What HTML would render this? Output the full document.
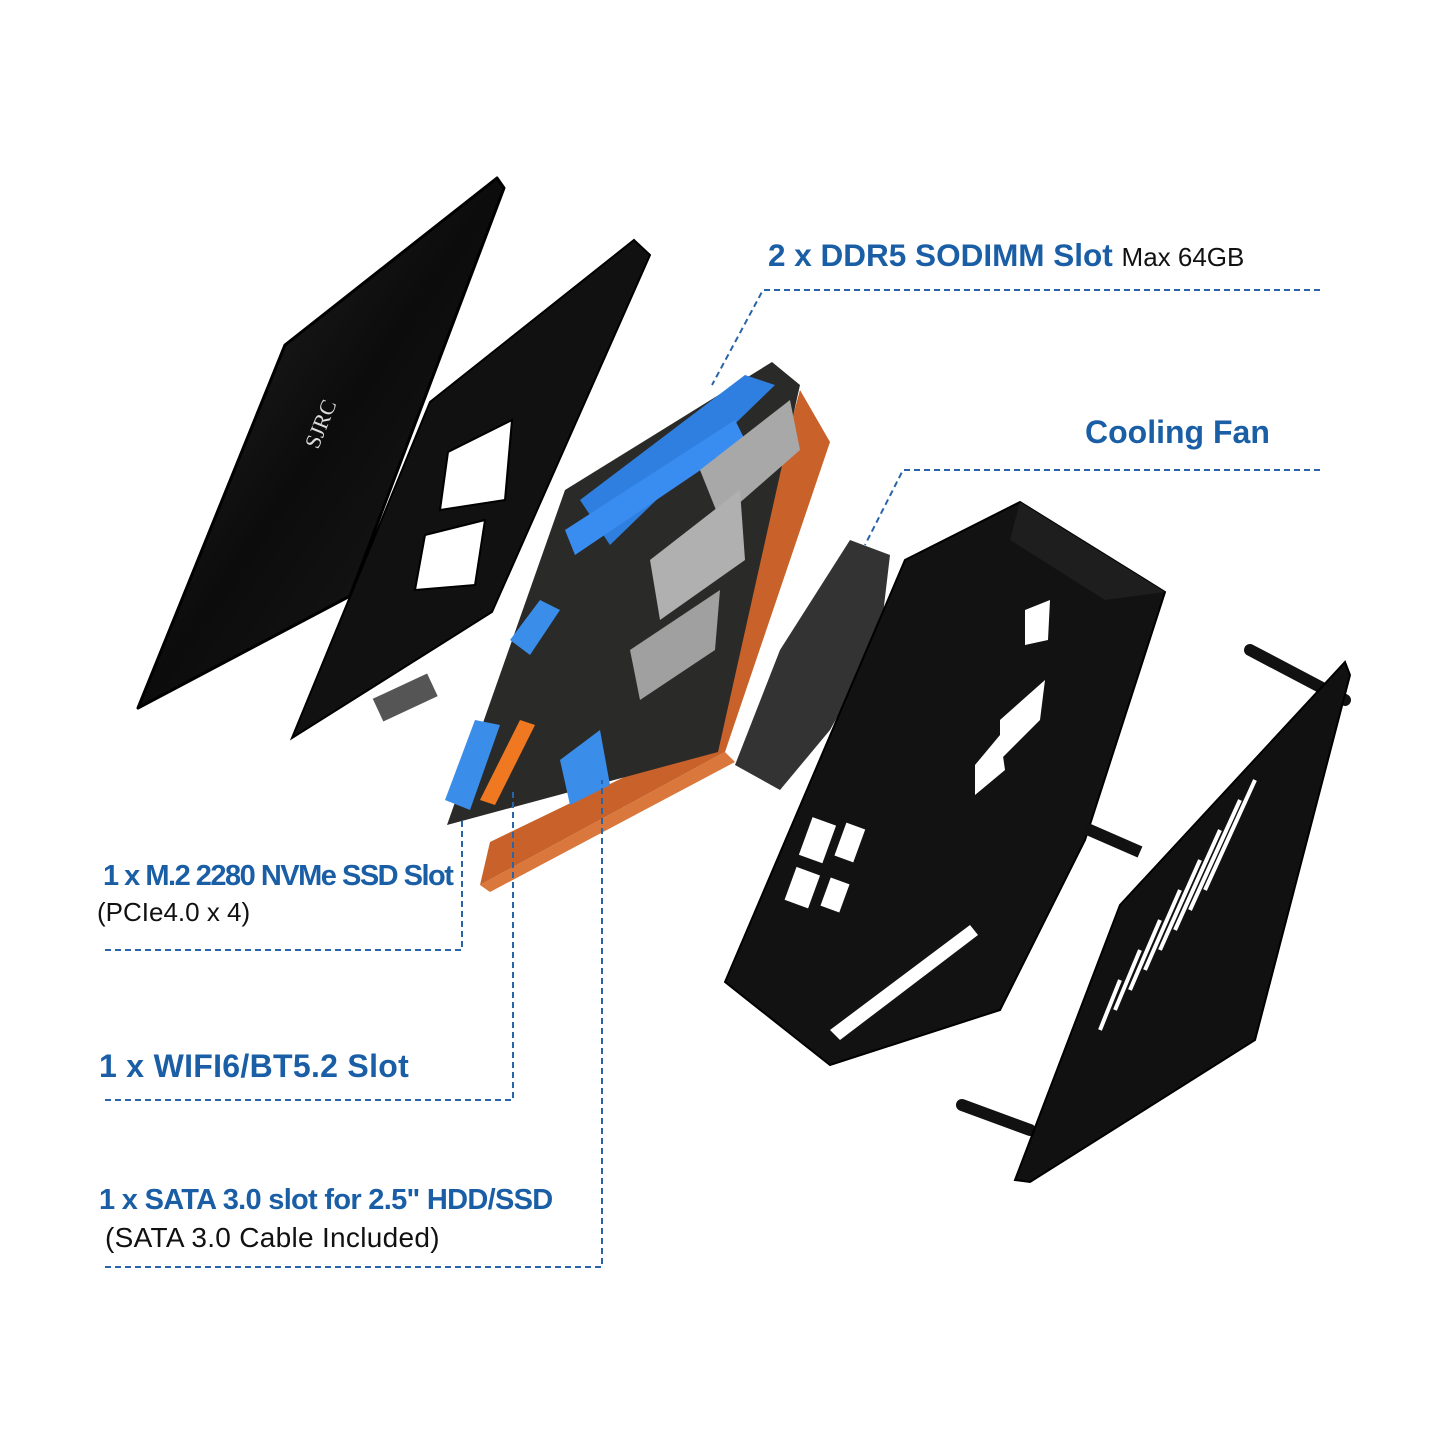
<!DOCTYPE html>
<html><head><meta charset="utf-8"><style>
html,body{margin:0;padding:0;background:#fff}
svg{display:block}
.b{font-family:"Liberation Sans",sans-serif;font-weight:bold;fill:#1a5ea6}
.n{font-family:"Liberation Sans",sans-serif;fill:#111}
.d{stroke:#2a64a8;stroke-width:2;stroke-dasharray:6 4;fill:none}
</style></head><body>
<svg width="1445" height="1445" viewBox="0 0 1445 1445" xmlns="http://www.w3.org/2000/svg">
<defs>
<linearGradient id="g1" x1="0" y1="0" x2="1" y2="1"><stop offset="0" stop-color="#2a2a2a"/><stop offset="0.5" stop-color="#0c0c0c"/><stop offset="1" stop-color="#1c1c1c"/></linearGradient>
</defs>
<polygon points="138,708 285,345 497,178 504,188 350,596" fill="url(#g1)" stroke="#000" stroke-width="3" stroke-linejoin="round"/>
<text x="0" y="0" transform="translate(318,450) rotate(-68)" font-family="Liberation Serif,serif" font-size="22" fill="#ddd">SJRC</text>
<path d="M292,738 L430,402 L634,240 L650,255 L492,612 Z M448,452 L512,420 L505,500 L440,510 Z M425,535 L485,520 L475,585 L415,590 Z" fill="#111" fill-rule="evenodd" stroke="#000" stroke-width="2"/>
<rect x="375" y="685" width="60" height="25" fill="#555" transform="rotate(-25 405 697)"/>
<polygon points="480,885 490,842 705,738 800,390 830,442 725,752" fill="#c9622a"/>
<polygon points="480,885 725,752 735,762 490,892" fill="#d9773c"/>
<polygon points="447,825 565,490 772,362 800,385 718,752" fill="#2a2a28"/>
<polygon points="580,500 745,375 775,385 610,545" fill="#2f7fe0"/>
<polygon points="565,530 735,420 745,440 575,555" fill="#3a8df0"/>
<polygon points="700,470 790,400 800,450 720,520" fill="#a8a8a8"/>
<polygon points="650,560 740,490 745,560 660,620" fill="#b0b0b0"/>
<polygon points="630,650 720,590 715,650 640,700" fill="#a0a0a0"/>
<polygon points="445,800 475,720 500,725 470,810" fill="#3a8de8"/>
<polygon points="480,800 520,720 535,725 495,805" fill="#f07820"/>
<polygon points="560,760 600,730 610,785 570,805" fill="#3a8de8"/>
<polygon points="510,640 540,600 560,610 530,655" fill="#3a8de8"/>
<polygon points="735,765 780,650 850,540 890,555 880,640 830,730 780,790" fill="#333"/>
<polygon points="725,982 905,560 1020,502 1165,592 1085,840 1000,1010 830,1065" fill="#121212" stroke="#000" stroke-width="2"/>
<polygon points="1020,502 1165,592 1105,600 1010,540" fill="#1e1e1e"/>
<rect x="805" y="820" width="25" height="40" fill="#fff" transform="rotate(20 817 840)"/>
<rect x="840" y="825" width="20" height="35" fill="#fff" transform="rotate(20 850 842)"/>
<rect x="790" y="870" width="25" height="35" fill="#fff" transform="rotate(20 802 887)"/>
<rect x="825" y="880" width="20" height="30" fill="#fff" transform="rotate(20 835 895)"/>
<polygon points="830,1030 970,925 978,935 840,1040" fill="#fff"/>
<polygon points="1025,610 1050,600 1048,640 1025,645" fill="#fff"/>
<polygon points="1000,720 1045,680 1040,720 1000,760" fill="#fff"/>
<polygon points="975,765 1000,735 1005,770 975,795" fill="#fff"/>
<line x1="1250" y1="650" x2="1345" y2="700" stroke="#111" stroke-width="12" stroke-linecap="round"/>
<line x1="1085" y1="828" x2="1140" y2="852" stroke="#111" stroke-width="12"/>
<line x1="962" y1="1105" x2="1030" y2="1130" stroke="#111" stroke-width="12" stroke-linecap="round"/>
<polygon points="1015,1180 1120,905 1345,662 1350,675 1255,1040 1030,1182" fill="#111" stroke="#000" stroke-width="2"/>
<g stroke="#fff" stroke-width="4">
<line x1="1100" y1="1030" x2="1120" y2="980"/><line x1="1115" y1="1010" x2="1140" y2="950"/>
<line x1="1130" y1="990" x2="1160" y2="920"/><line x1="1145" y1="970" x2="1180" y2="890"/>
<line x1="1160" y1="950" x2="1200" y2="860"/><line x1="1175" y1="930" x2="1220" y2="830"/>
<line x1="1190" y1="910" x2="1240" y2="800"/><line x1="1205" y1="890" x2="1255" y2="780"/>
</g>
<text x="768" y="266" class="b" font-size="31.5">2 x DDR5 SODIMM Slot <tspan class="n" font-weight="normal" font-size="26" fill="#111">Max 64GB</tspan></text>
<path class="d" d="M1320,290 L763,290 L712,385"/>
<text x="1085" y="443" class="b" font-size="32">Cooling Fan</text>
<path class="d" d="M1320,470 L903,470 L865,545"/>
<text x="103" y="885" class="b" font-size="29" letter-spacing="-1.5">1 x M.2 2280 NVMe SSD Slot</text>
<text x="97" y="921" class="n" font-size="26">(PCIe4.0 x 4)</text>
<path class="d" d="M105,950 L462,950 L462,820"/>
<text x="99" y="1077" class="b" font-size="32" letter-spacing="0.3">1 x WIFI6/BT5.2 Slot</text>
<path class="d" d="M105,1100 L513,1100 L513,790"/>
<text x="99" y="1209" class="b" font-size="29" letter-spacing="-0.7">1 x SATA 3.0 slot for 2.5" HDD/SSD</text>
<text x="105" y="1247" class="n" font-size="28" letter-spacing="0.3">(SATA 3.0 Cable Included)</text>
<path class="d" d="M105,1267 L602,1267 L602,780"/>
</svg>
</body></html>
